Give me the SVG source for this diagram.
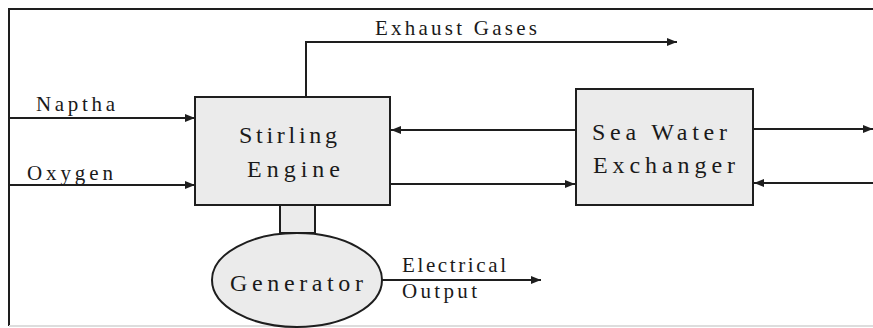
<svg xmlns="http://www.w3.org/2000/svg" width="873" height="328" viewBox="0 0 873 328">
<style>
.ln{stroke:#1e1e1e;stroke-width:2;fill:none}
.box{fill:#ebebeb;stroke:#1e1e1e;stroke-width:2}
.tx{font-family:"Liberation Serif","Times New Roman",Times,serif;fill:#1a1a1a}
.lab{font-size:21px}
.nd{font-size:24px}
</style>
<defs>
<marker id="ah" viewBox="0 0 10 8" refX="10" refY="4" markerWidth="10" markerHeight="8" markerUnits="userSpaceOnUse" orient="auto">
<path d="M0,0 L10,4 L0,8 z" fill="#1e1e1e"/>
</marker>
</defs>
<rect width="873" height="328" fill="#ffffff"/>
<g id="frame">
<path class="ln" d="M9,326 L9,9 L873,9"/>
<path d="M9,326 L873,326" stroke="#dddddd" stroke-width="2" fill="none"/>
</g>
<g id="connectors">
<path class="ln" d="M9,118 L195,118" marker-end="url(#ah)"/>
<path class="ln" d="M9,185 L195,185" marker-end="url(#ah)"/>
<path class="ln" d="M306,97 L306,42 L677,42" marker-end="url(#ah)"/>
<path class="ln" d="M576,130 L391,130" marker-end="url(#ah)"/>
<path class="ln" d="M391,184 L575,184" marker-end="url(#ah)"/>
<path class="ln" d="M753,129 L873,129" marker-end="url(#ah)"/>
<path class="ln" d="M873,183 L754,183" marker-end="url(#ah)"/>
<path class="ln" d="M382,280 L541,280" marker-end="url(#ah)"/>
</g>
<g id="labels">
<text class="tx lab" x="36" y="111" textLength="79" lengthAdjust="spacing">Naptha</text>
<text class="tx lab" x="27" y="180" textLength="86" lengthAdjust="spacing">Oxygen</text>
<text class="tx lab" x="375" y="35" textLength="162" lengthAdjust="spacing">Exhaust Gases</text>
<text class="tx lab" x="402" y="272" textLength="104" lengthAdjust="spacing">Electrical</text>
<text class="tx lab" x="402" y="298" textLength="75" lengthAdjust="spacing">Output</text>
</g>
<g id="stirling">
<rect class="box" x="195" y="97" width="195" height="108"/>
<text class="tx nd" x="239" y="143" textLength="98" lengthAdjust="spacing">Stirling</text>
<text class="tx nd" x="247" y="177" textLength="93" lengthAdjust="spacing">Engine</text>
</g>
<g id="seawater">
<rect class="box" x="576" y="89" width="177" height="116"/>
<text class="tx nd" x="592" y="140" textLength="135" lengthAdjust="spacing">Sea Water</text>
<text class="tx nd" x="593" y="173" textLength="142" lengthAdjust="spacing">Exchanger</text>
</g>
<g id="shaft">
<rect class="box" x="280" y="205" width="35" height="28"/>
</g>
<g id="generator">
<ellipse class="box" cx="297" cy="280" rx="85" ry="47"/>
<text class="tx nd" x="230" y="291" textLength="133" lengthAdjust="spacing">Generator</text>
</g>
</svg>
